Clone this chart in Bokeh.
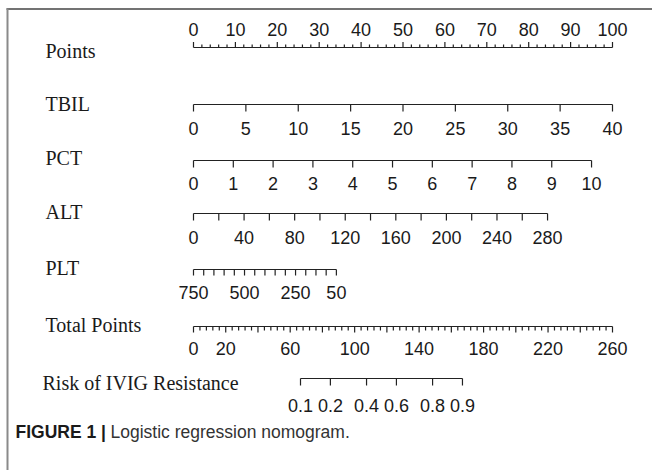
import math
from bokeh.plotting import figure
from bokeh.models import Range1d
from bokeh.embed import file_html
from bokeh.resources import INLINE
from bokeh.core.properties import value

# ---------------- data ----------------
points_major = [0, 10, 20, 30, 40, 50, 60, 70, 80, 90, 100]
points_minor = [v for v in range(0, 101, 2) if v % 10 != 0]

tbil_ticks = [0, 5, 10, 15, 20, 25, 30, 35, 40]
tbil_labels = [0, 5, 10, 15, 20, 25, 30, 35, 40]
tbil_range = (0, 40)
tbil_points = (0, 100)

pct_ticks = [0, 1, 2, 3, 4, 5, 6, 7, 8, 9, 10]
pct_labels = [0, 1, 2, 3, 4, 5, 6, 7, 8, 9, 10]
pct_range = (0, 10)
pct_points = (0, 95)

alt_ticks = [0, 20, 40, 60, 80, 100, 120, 140, 160, 180, 200, 220, 240, 260, 280]
alt_labels = [0, 40, 80, 120, 160, 200, 240, 280]
alt_range = (0, 280)
alt_points = (0, 84.5)

plt_ticks = [750, 700, 650, 600, 550, 500, 450, 400, 350, 300, 250, 200, 150, 100, 50]
plt_labels = [750, 500, 250, 50]
plt_range = (750, 50)
plt_points = (0, 34.1)

total_major = [0, 20, 40, 60, 80, 100, 120, 140, 160, 180, 200, 220, 240, 260]
total_minor = [v for v in range(0, 261, 4) if v % 20 != 0]
total_labels = [0, 20, 60, 100, 140, 180, 220, 260]
total_range = (0, 260)
total_points = (0, 100)

risk_probs = [0.1, 0.2, 0.4, 0.6, 0.8, 0.9]
risk_labels = ["0.1", "0.2", "0.4", "0.6", "0.8", "0.9"]
risk_total_at_logit0 = 116.65
risk_total_per_logit = 22.87

row_names = ["Points", "TBIL", "PCT", "ALT", "PLT", "Total Points", "Risk of  IVIG Resistance"]

# ---------------- layout ----------------
W, H = 652, 470
PX_PER_PT = 4.19
ORIGIN_PX = 193
xs = -ORIGIN_PX / PX_PER_PT
p = figure(width=W, height=H, x_range=Range1d(xs, xs + W / PX_PER_PT),
           y_range=Range1d(H, 0), output_backend="svg", toolbar_location=None,
           min_border=0, x_axis_location=None, y_axis_location=None)
p.grid.visible = False
p.outline_line_color = None
p.background_fill_color = "white"
p.border_fill_color = "white"

LINE = "#222222"
TXT = "#1a1a1a"
NUM_FONT = value("Liberation Sans")
LBL_FONT = value("Liberation Serif")


def px(xpage):
    return (xpage - ORIGIN_PX) / PX_PER_PT


def mapper(rng, pts):
    def f(v):
        return pts[0] + (v - rng[0]) / (rng[1] - rng[0]) * (pts[1] - pts[0])
    return f


def scale(xvals, y, tick_len, width=1.2):
    xvals = list(xvals)
    p.segment(x0=[min(xvals)], x1=[max(xvals)], y0=[y], y1=[y], line_color=LINE, line_width=width)
    p.segment(x0=xvals, x1=xvals, y0=[y] * len(xvals), y1=[y + tick_len] * len(xvals),
              line_color=LINE, line_width=width)


def nums(xvals, texts, y, size="18px"):
    p.text(x=list(xvals), y=[y] * len(texts), text=[str(t) for t in texts],
           text_font=NUM_FONT, text_font_size=size, text_align="center",
           text_baseline="middle", text_color=TXT)


label_ys = [50, 103, 157, 211, 267, 324, 382]
p.text(x=[px(45)] * 6 + [px(42)], y=label_ys, text=row_names, text_font=LBL_FONT,
       text_font_size="20px", text_align="left", text_baseline="middle", text_color=TXT)

# Points
scale(points_major, 47, -5.5)
p.segment(x0=points_minor, x1=points_minor, y0=[47] * len(points_minor),
          y1=[44] * len(points_minor), line_color=LINE, line_width=1.2)
nums(points_major, points_major, 29)

# TBIL
f = mapper(tbil_range, tbil_points)
scale([f(v) for v in tbil_ticks], 104, 7)
nums([f(v) for v in tbil_labels], tbil_labels, 128)

# PCT
f = mapper(pct_range, pct_points)
scale([f(v) for v in pct_ticks], 160, 7)
nums([f(v) for v in pct_labels], pct_labels, 183)

# ALT
f = mapper(alt_range, alt_points)
scale([f(v) for v in alt_ticks], 213, 7)
nums([f(v) for v in alt_labels], alt_labels, 237)

# PLT
f = mapper(plt_range, plt_points)
scale([f(v) for v in plt_ticks], 269, 6)
nums([f(v) for v in plt_labels], plt_labels, 292)

# Total points
f = mapper(total_range, total_points)
scale([f(v) for v in total_major], 326, 6)
tm = [f(v) for v in total_minor]
p.segment(x0=tm, x1=tm, y0=[326] * len(tm), y1=[330] * len(tm), line_color=LINE, line_width=1.2)
nums([f(v) for v in total_labels], total_labels, 348)

# Risk
risk_total = [risk_total_at_logit0 + risk_total_per_logit * math.log(q / (1 - q)) for q in risk_probs]
rx = [f(t) for t in risk_total]
scale(rx, 378, 7)
nums(rx, risk_labels, 405)

# frame lines (top and left)
p.segment(x0=[px(6)], x1=[xs + W / PX_PER_PT], y0=[8.5], y1=[8.5], line_color="#444444", line_width=1.5)
p.segment(x0=[px(7)], x1=[px(7)], y0=[8], y1=[H], line_color="#8a8a8a", line_width=2)

# caption
p.text(x=[px(15)], y=[431], text=["FIGURE 1 |"], text_font=NUM_FONT, text_font_size="17.5px",
       text_font_style="bold", text_align="left", text_baseline="middle", text_color=TXT)
p.text(x=[px(110)], y=[431], text=["Logistic regression nomogram."], text_font=NUM_FONT,
       text_font_size="17.5px", text_align="left", text_baseline="middle", text_color="#333333")

open("out.html", "w").write(file_html(p, INLINE))
